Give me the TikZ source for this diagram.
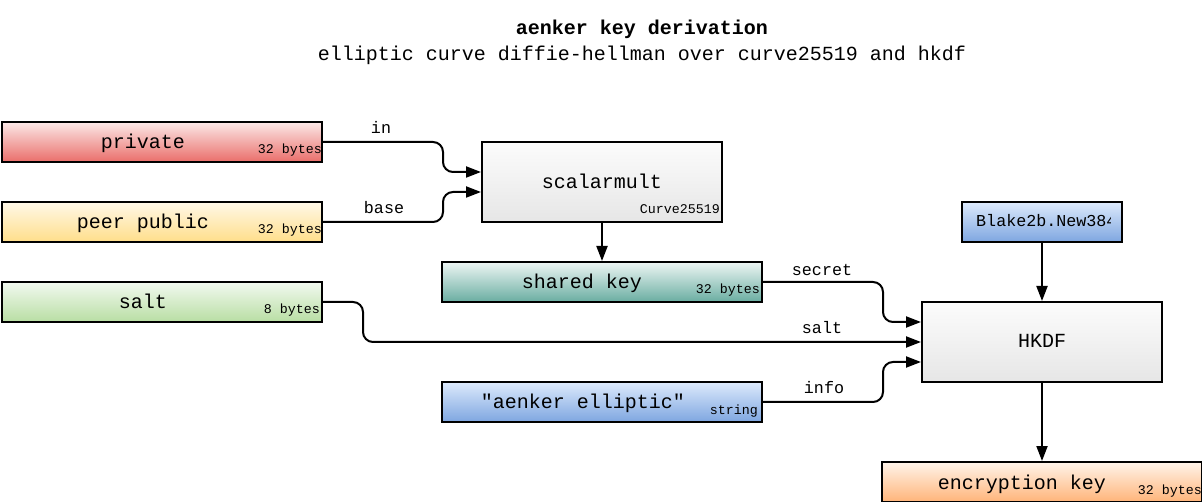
\documentclass[tikz,border=0pt]{standalone}
\usepackage{fontspec}
\setmonofont{Liberation Mono}
\renewcommand{\familydefault}{\ttdefault}
\usetikzlibrary{arrows.meta}
\definecolor{redT}{HTML}{FBE8E7}
\definecolor{redB}{HTML}{EA6E6A}
\definecolor{yelT}{HTML}{FFF8E8}
\definecolor{yelB}{HTML}{FFDE8A}
\definecolor{grnT}{HTML}{F2F9F0}
\definecolor{grnB}{HTML}{B8DEA3}
\definecolor{tealT}{HTML}{EEF6F4}
\definecolor{tealB}{HTML}{69ADA1}
\definecolor{orgT}{HTML}{FFF4EA}
\definecolor{orgB}{HTML}{FFB479}
\definecolor{gryT}{HTML}{FCFCFC}
\definecolor{gryB}{HTML}{E6E6E6}
\definecolor{bluT}{HTML}{DDEAFC}
\definecolor{bluB}{HTML}{7EA6E0}
\begin{document}
\begin{tikzpicture}[x=1pt,y=-1pt,
  box/.style={draw=black, line width=2pt, minimum height=40pt, inner sep=0pt, anchor=north west},
  mainlbl/.style={font=\ttfamily\fontsize{20}{24}\selectfont, anchor=base, inner sep=0pt},
  smalllbl/.style={font=\ttfamily\fontsize{13.3}{16}\selectfont, anchor=base east, inner sep=0pt},
  elbl/.style={font=\ttfamily\fontsize{16.7}{20}\selectfont, anchor=base, inner sep=0pt},
  conn/.style={line width=2pt, rounded corners=10pt, -{Triangle[length=15pt,width=11pt]}}]
\useasboundingbox (0,0) rectangle (1202,502);

% title
\node[font=\ttfamily\bfseries\fontsize{20}{24}\selectfont, anchor=base, inner sep=0pt] (title) at (642,35) {aenker key derivation};
\node[font=\ttfamily\fontsize{20}{24}\selectfont, anchor=base, inner sep=0pt] (subtitle) at (642,61) {elliptic curve diffie-hellman over curve25519 and hkdf};

% boxes
\node[box, minimum width=320pt, top color=redT, bottom color=redB] (priv) at (1,121) {};
\node[box, minimum width=320pt, top color=yelT, bottom color=yelB] (peer) at (1,201) {};
\node[box, minimum width=320pt, top color=grnT, bottom color=grnB] (salt) at (1,281) {};
\node[box, minimum width=240pt, minimum height=80pt, top color=gryT, bottom color=gryB] (sm) at (481,141) {};
\node[box, minimum width=320pt, top color=tealT, bottom color=tealB] (shared) at (441,261) {};
\node[box, minimum width=320pt, top color=bluT, bottom color=bluB] (info) at (441,381) {};
\node[box, minimum width=160pt, top color=bluT, bottom color=bluB] (blake) at (961,201) {};
\node[box, minimum width=240pt, minimum height=80pt, top color=gryT, bottom color=gryB] (hkdf) at (921,301) {};
\node[box, minimum width=320pt, top color=orgT, bottom color=orgB] (enc) at (881,461) {};

% main labels
\node[mainlbl] (privL) at ([xshift=-19pt,yshift=-7pt]priv.center) {private};
\node[mainlbl] (peerL) at ([xshift=-19pt,yshift=-7pt]peer.center) {peer public};
\node[mainlbl] (saltL) at ([xshift=-19pt,yshift=-7pt]salt.center) {salt};
\node[mainlbl] (smL) at ([yshift=-7pt]sm.center) {scalarmult};
\node[mainlbl] (sharedL) at ([xshift=-20pt,yshift=-7pt]shared.center) {shared key};
\node[mainlbl] (infoL) at ([xshift=-19pt,yshift=-7pt]info.center) {"aenker elliptic"};
\node[mainlbl] (hkdfL) at ([yshift=-6pt]hkdf.center) {HKDF};
\node[mainlbl] (encL) at ([xshift=-20pt,yshift=-7pt]enc.center) {encryption key};
\begin{scope}
  \clip (962,202) rectangle (1110,240);
  \node[elbl, anchor=base west] (blakeL) at (976,227) {Blake2b.New384};
\end{scope}

% small labels
\node[smalllbl] (privS) at ([xshift=-1pt,yshift=9pt]priv.south east) {32 bytes};
\node[smalllbl] (peerS) at ([xshift=-1pt,yshift=9pt]peer.south east) {32 bytes};
\node[smalllbl] (saltS) at ([xshift=-3pt,yshift=9pt]salt.south east) {8 bytes};
\node[smalllbl] (smS) at ([xshift=-3pt,yshift=9pt]sm.south east) {Curve25519};
\node[smalllbl] (sharedS) at ([xshift=-3pt,yshift=9pt]shared.south east) {32 bytes};
\node[smalllbl] (infoS) at ([xshift=-5pt,yshift=9pt]info.south east) {string};
\node[smalllbl] (encS) at ([xshift=-1pt,yshift=9pt]enc.south east) {32 bytes};

% connectors
\draw[conn] (priv.east) -- ++(120,0) |- ([yshift=10pt]sm.west);
\draw[conn] (peer.east) -- ++(120,0) |- ([yshift=-10pt]sm.west);
\draw[conn] (sm.south) -- (shared.north);
\draw[conn] (shared.east) -- ++(120,0) |- ([yshift=20pt]hkdf.west);
\draw[conn] (salt.east) -- ++(40,0) |- (hkdf.west);
\draw[conn] (info.east) -- ++(120,0) |- ([yshift=-20pt]hkdf.west);
\draw[conn] (blake.south) -- (hkdf.north);
\draw[conn] (hkdf.south) -- (enc.north);

% connector labels
\node[elbl] (lin) at (381,134) {in};
\node[elbl] (lbase) at (384,214) {base};
\node[elbl] (lsecret) at (822,276) {secret};
\node[elbl] (lsalt) at (822,334) {salt};
\node[elbl] (linfo) at (824,394) {info};
\end{tikzpicture}
\end{document}
